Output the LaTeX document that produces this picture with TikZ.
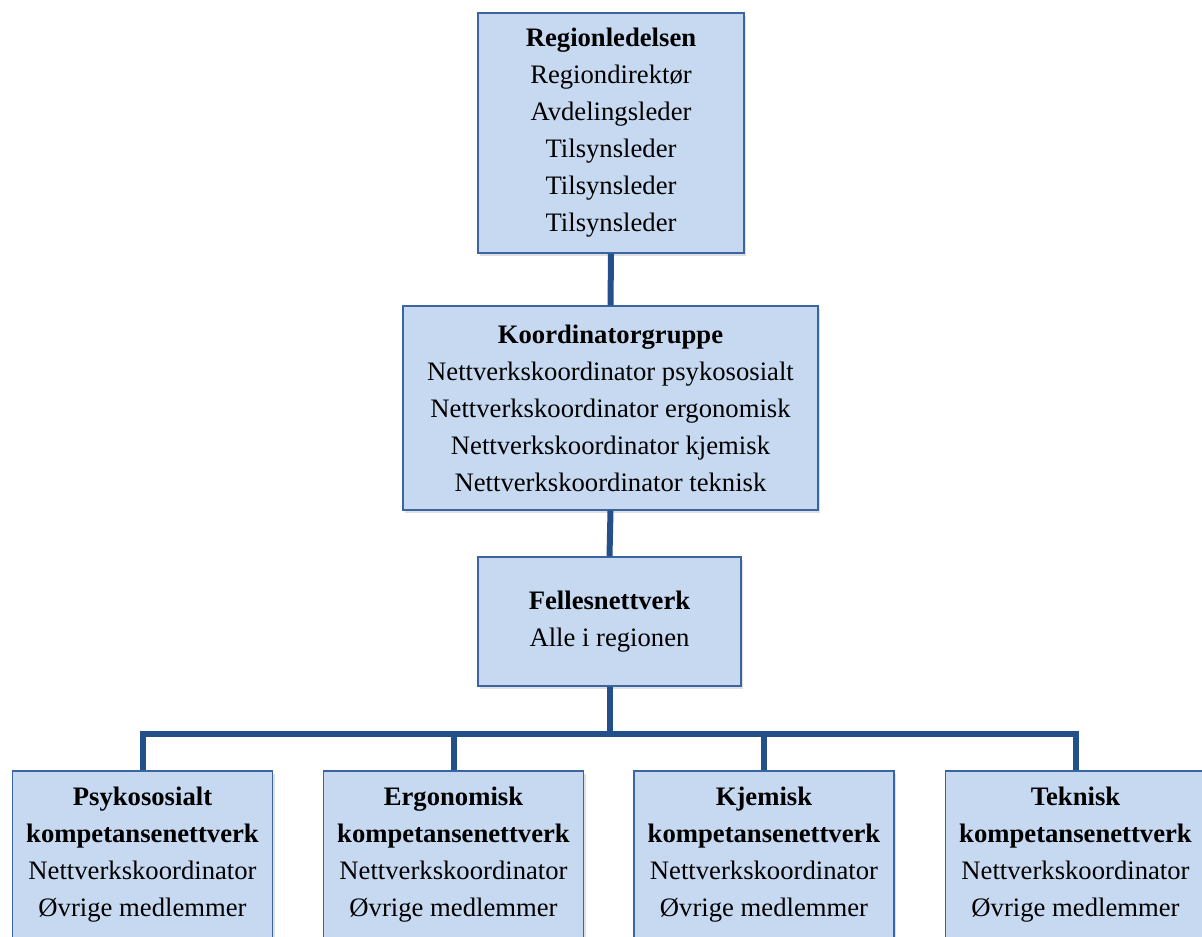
\documentclass[tikz,border=0pt]{standalone}
\usepackage{xcolor}
\usepackage{fontspec}
\setmainfont{Liberation Serif}
\usetikzlibrary{shadows}
\definecolor{OrgFill}{HTML}{C6D9F1}
\definecolor{OrgBorder}{HTML}{3A65A0}
\definecolor{OrgLink}{HTML}{24508A}

\begin{document}
\begin{tikzpicture}[x=0.75pt, y=-0.75pt,
  unit/.style={draw=OrgBorder, line width=1pt, fill=OrgFill, inner sep=0pt,
    align=center, font=\fontsize{20}{27.75}\selectfont,
    drop shadow={opacity=0.25, shadow xshift=1.5pt, shadow yshift=-2pt}},
  team/.style={unit, minimum width=195pt, minimum height=126pt},
  link/.style={draw=OrgLink, line width=4.5pt, line join=miter}]
  \clip (0,0) rectangle (1202,936);

  % ledelse og koordinatorer
  \node[unit, minimum width=199.5pt, minimum height=180pt] (ledelse) at (611,133)
    {\textbf{Regionledelsen}\\ Regiondirektør\\ Avdelingsleder\\
     Tilsynsleder\\ Tilsynsleder\\ Tilsynsleder};
  \node[unit, minimum width=311.25pt, minimum height=153pt] (koord) at (610.5,408)
    {\textbf{Koordinatorgruppe}\\ Nettverkskoordinator psykososialt\\
     Nettverkskoordinator ergonomisk\\ Nettverkskoordinator kjemisk\\
     Nettverkskoordinator teknisk};
  \node[unit, minimum width=197.25pt, minimum height=96.75pt] (felles) at (609.5,621.5)
    {\textbf{Fellesnettverk}\\ Alle i regionen};

  % kompetansenettverk
  \node[team] (psyk) at (142.5,855)
    {\textbf{Psykososialt}\\ \textbf{kompetansenettverk}\\ Nettverkskoordinator\\ Øvrige medlemmer};
  \node[team] (ergo) at (453.5,855)
    {\textbf{Ergonomisk}\\ \textbf{kompetansenettverk}\\ Nettverkskoordinator\\ Øvrige medlemmer};
  \node[team] (kjem) at (764,855)
    {\textbf{Kjemisk}\\ \textbf{kompetansenettverk}\\ Nettverkskoordinator\\ Øvrige medlemmer};
  \node[team] (tekn) at (1075.5,855)
    {\textbf{Teknisk}\\ \textbf{kompetansenettverk}\\ Nettverkskoordinator\\ Øvrige medlemmer};

  % linjer
  \draw[link] (ledelse.south) -- (koord.north);
  \draw[link] (koord.south) -- (felles.north);
  \draw[link] (felles.south) -- ++(0,47) coordinate (bus);
  \draw[link] (psyk.north) |- (bus) -| (tekn.north);
  \draw[link] (ergo.north) -- (ergo.north |- bus);
  \draw[link] (kjem.north) -- (kjem.north |- bus);
\end{tikzpicture}
\end{document}
